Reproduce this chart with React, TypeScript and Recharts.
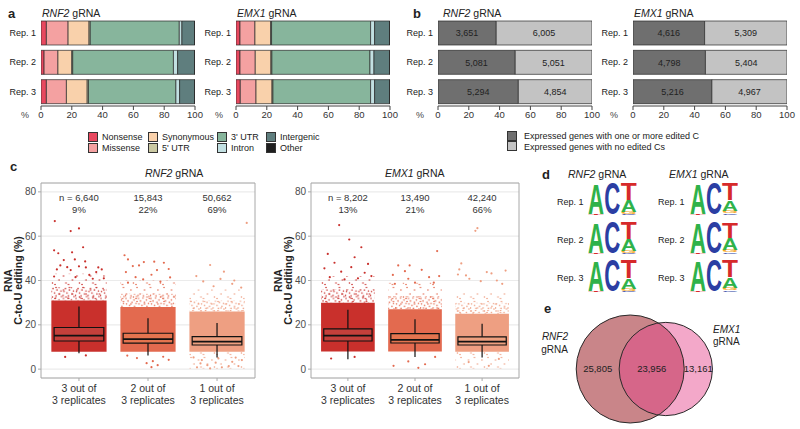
import React from "react";
import {
  BarChart, Bar, XAxis, YAxis, LabelList, ScatterChart, Scatter, ZAxis,
  CartesianGrid, ReferenceArea, ReferenceLine, ReferenceDot, Label,
} from "recharts";

const FONT = '"Liberation Sans", Arial, Helvetica, sans-serif';
const INK = "#222";

const reps = ["Rep. 1", "Rep. 2", "Rep. 3"];
const pctTicks = [0, 20, 40, 60, 80, 100];

// a: where the edited Cs fall (% of sites per replicate)
const siteClasses = ["Nonsense", "Missense", "Synonymous", "5' UTR", "3' UTR", "Intron", "Intergenic", "Other"];
const siteColors = ["#e8485f", "#f4a1a1", "#f9d1ab", "#cbc9a2", "#87b59c", "#c2e0e2", "#5f7e7e", "#1f1f1f"];
const rnf2Sites = [
  [3.5, 14.1, 13.6, 0.8, 57.8, 1.7, 8.2, 0.3],
  [2.0, 9.0, 9.0, 0.6, 65.4, 2.7, 11.0, 0.3],
  [3.5, 13.0, 13.5, 0.8, 56.8, 2.4, 9.7, 0.3],
];
const emx1Sites = [
  [2.6, 9.7, 10.2, 0.6, 64.3, 2.6, 9.7, 0.3],
  [2.6, 9.9, 10.2, 0.6, 63.7, 2.6, 10.1, 0.3],
  [2.8, 10.2, 10.4, 0.6, 63.4, 2.6, 9.7, 0.3],
];
// legend is laid out column by column, two per column
const legendColumns = [[0, 1], [2, 3], [4, 5], [6, 7]];

// b: expressed genes with / without edited Cs
const rnf2Edited = [3651, 5081, 5294];
const rnf2Unedited = [6005, 5051, 4854];
const emx1Edited = [4616, 4798, 5216];
const emx1Unedited = [5309, 5404, 4967];
const geneClasses = ["Expressed genes with one or more edited C", "Expressed genes with no edited Cs"];
const geneColors = ["#6f6f6f", "#c3c3c3"];

// c: editing level of sites found in 3, 2 or 1 replicates
const replicateGroups = [1, 2, 3];
const groupLabels = [["3 out of", "3 replicates"], ["2 out of", "3 replicates"], ["1 out of", "3 replicates"]];
const editTicks = [0, 20, 40, 60, 80];
const groupColors = ["#c9302c", "#e36a4f", "#ee9f82"];
const boxColors = ["#c4403b", "#e4744f", "#eea07f"];
const rnf2Counts = [6640, 15843, 50662];
const emx1Counts = [8202, 13490, 42240];
// whisker low, Q1, median, Q3, whisker high
const rnf2Boxes = [[7.2, 12.7, 15.1, 18.8, 28.3], [6.2, 11.7, 13.5, 16.2, 23.0], [5.3, 10.9, 12.4, 14.7, 20.8]];
const emx1Boxes = [[4.5, 12.7, 15.1, 18.2, 26.8], [5.5, 11.8, 13.2, 16.0, 22.5], [5.3, 10.9, 12.4, 14.6, 20.5]];
// point cloud: sparse bottom, dense bottom, dense top, speckled top, sparse top
const rnf2Clouds = [[7.8, 7.8, 31, 37, 43], [7.8, 7.8, 28, 34, 40], [0.3, 7.8, 26, 31, 36]];
const emx1Clouds = [[8.0, 8.0, 30, 36, 42], [8.0, 8.0, 27, 33, 39], [0.3, 7.8, 25, 30, 35]];
// scattered points outside the cloud: [jitter, editing %]
const rnf2Outliers = [
  [[-0.35, 66.8], [-0.12, 62.3], [0.0, 63.5], [0.06, 55], [-0.36, 53.6], [-0.3, 52.3], [-0.1, 52.7], [-0.22, 49.2],
   [-0.06, 49.5], [0.09, 48.6], [-0.27, 46.8], [-0.17, 46], [-0.32, 45], [-0.12, 44.7], [0.0, 46.4], [0.1, 45.9],
   [0.28, 45.9], [0.33, 45], [0.25, 43.8], [-0.36, 41.8], [0.15, 42.5], [-0.05, 41.5], [0.2, 40.8], [0.36, 41],
   [-0.2, 5.5], [0.1, 6.2]],
  [[-0.34, 51.4], [-0.29, 49.5], [-0.06, 48.3], [0.09, 48.5], [-0.22, 46.5], [-0.13, 46.8], [0.13, 44.7], [0.23, 48],
   [-0.32, 43.8], [0.32, 41.4], [-0.29, 39], [-0.07, 40.5], [0.05, 42.6], [0.3, 45.2], [0.18, 39.5], [-0.18, 41.5],
   [0.05, 0.9], [-0.16, 5], [-0.02, 2.7], [0.14, 1.8], [0.07, 3.6], [0.22, 5.6], [-0.3, 6.1], [0.3, 4.2]],
  [[0.43, 66], [-0.3, 42], [0.1, 44], [0.25, 40], [-0.1, 47], [-0.05, 37.4], [0.22, 38.5], [0.35, 36.8],
   [-0.2, 39.6], [0.05, 40.7], [-0.34, 5.3], [-0.22, 4.1], [-0.14, 1.8], [-0.02, 2.9], [0.07, 0.8], [0.22, 3.3],
   [0.31, 1.4], [-0.29, 0.8], [-0.1, 0.3], [0.27, 5.2], [0.36, 4.1], [0.02, 4.8], [-0.24, 2.6], [0.17, 1.4]],
];
const emx1Outliers = [
  [[-0.13, 65], [0.02, 58.5], [0.2, 55], [-0.3, 52], [0.1, 50.5], [-0.2, 48], [0.3, 47.5], [-0.35, 45.5],
   [0.05, 46], [0.25, 43.5], [-0.1, 44], [-0.27, 41.5], [0.15, 41], [0.35, 42], [-0.05, 40.5], [-0.25, 4.8], [0.1, 5.5]],
  [[-0.25, 46.8], [-0.08, 46.8], [-0.15, 44.2], [0.21, 41.5], [0.33, 53.3], [0.28, 39], [0.36, 42], [-0.1, 40.8],
   [0.0, 39], [-0.33, 42.5], [0.1, 44.8], [-0.3, 38.5], [-0.32, 1.5], [-0.1, 3.5], [0.15, 2.2], [0.3, 5.5], [0.05, 0.6]],
  [[-0.07, 63.6], [-0.1, 62.4], [-0.31, 47.7], [-0.34, 45], [0.07, 43.8], [-0.24, 42.3], [-0.19, 40.8], [-0.02, 39.7],
   [0.14, 43.2], [-0.36, 42.7], [0.3, 38.5], [0.22, 40], [0.35, 44.5], [-0.2, 3.2], [0.1, 1.5], [0.25, 4.6]],
];

// d: sequence context, letters bottom to top with their frequency
const logoColors: Record<string, string> = { A: "#2fb24a", C: "#2b3ea3", G: "#f4a81f", T: "#d62a2a" };
const glyphAdvance: Record<string, number> = { A: 72.2, C: 72.2, G: 77.8, T: 61.1 };
const rnf2Logos = [
  [[["G", 0.005], ["C", 0.005], ["T", 0.03], ["A", 0.96]], [["A", 0.005], ["G", 0.005], ["T", 0.01], ["C", 0.98]], [["C", 0.04], ["G", 0.06], ["A", 0.36], ["T", 0.54]]],
  [[["G", 0.005], ["C", 0.005], ["T", 0.03], ["A", 0.96]], [["A", 0.005], ["G", 0.005], ["T", 0.01], ["C", 0.98]], [["C", 0.04], ["G", 0.06], ["A", 0.38], ["T", 0.52]]],
  [[["G", 0.005], ["C", 0.005], ["T", 0.03], ["A", 0.96]], [["A", 0.005], ["G", 0.005], ["T", 0.01], ["C", 0.98]], [["C", 0.04], ["G", 0.06], ["A", 0.34], ["T", 0.56]]],
];
const emx1Logos = [
  [[["G", 0.005], ["C", 0.005], ["T", 0.03], ["A", 0.96]], [["A", 0.005], ["G", 0.005], ["T", 0.01], ["C", 0.98]], [["C", 0.05], ["G", 0.09], ["A", 0.32], ["T", 0.54]]],
  [[["G", 0.005], ["C", 0.005], ["T", 0.03], ["A", 0.96]], [["A", 0.005], ["G", 0.005], ["T", 0.01], ["C", 0.98]], [["C", 0.05], ["G", 0.08], ["A", 0.37], ["T", 0.50]]],
  [[["G", 0.005], ["C", 0.005], ["T", 0.03], ["A", 0.96]], [["A", 0.005], ["G", 0.005], ["T", 0.01], ["C", 0.98]], [["C", 0.05], ["G", 0.08], ["A", 0.33], ["T", 0.54]]],
];

// e: RNF2 only, shared, EMX1 only
const vennCounts = [25805, 23956, 13161];

const fmt = (v: number) => v.toLocaleString("en-US");

// jitter texture for the busy parts of the point clouds
const denseDots = [[1, 1], [5.5, 0.5], [9, 2.5], [3, 3.5], [7, 5], [11, 6], [1.5, 6.5], [4.5, 8], [9.5, 9], [0.5, 10.5], [6, 11], [11.5, 11.5]];
const sparseDots = [[2, 1.5], [9.5, 4], [5, 8], [12, 11], [1, 12.5]];

function T({ x, y, children, size = 10, bold = false, align = "left", color = INK }: any) {
  const tx = align === "right" ? "-100%" : align === "center" ? "-50%" : "0";
  return (
    <div style={{ position: "absolute", left: x, top: y, transform: `translate(${tx},-50%)`, fontSize: size,
      fontWeight: bold ? 700 : 400, color, whiteSpace: "nowrap", lineHeight: 1 }}>
      {children}
    </div>
  );
}

const RepTick = ({ x, y, payload }: any) => (
  <text x={x} y={y} dy={3.2} textAnchor="end" fontSize={9} fill={INK}>{payload.value}</text>
);

function SiteBars({ rows, left }: any) {
  const data = reps.map((rep, i) => {
    const d: any = { rep };
    siteClasses.forEach((_, j) => (d[`s${j}`] = rows[i][j]));
    return d;
  });
  return (
    <div style={{ position: "absolute", left, top: 0 }}>
      <BarChart width={215} height={126} data={data} layout="vertical" barSize={24}
        margin={{ top: 18, right: 20, bottom: 0, left: 0 }}>
        <XAxis type="number" domain={[0, 100]} ticks={pctTicks} interval={0} allowDataOverflow height={20}
          tickSize={4} tickMargin={1} stroke="#444" tick={{ fontSize: 9.5, fill: "#333" }} />
        <YAxis type="category" dataKey="rep" width={41} axisLine={false} tickLine={false}
          tickSize={0} tickMargin={5} tick={<RepTick />} />
        {siteClasses.map((c, j) => (
          <Bar key={c} dataKey={`s${j}`} stackId="s" fill={siteColors[j]} stroke="#2a2a2a" strokeWidth={0.7}
            isAnimationActive={false} />
        ))}
      </BarChart>
    </div>
  );
}

function GeneBars({ edited, unedited, left }: any) {
  const data = reps.map((rep, i) => ({ rep, edited: edited[i], unedited: unedited[i] }));
  return (
    <div style={{ position: "absolute", left, top: 0 }}>
      <BarChart width={215} height={126} data={data} layout="vertical" barSize={24} stackOffset="expand"
        margin={{ top: 18, right: 20, bottom: 0, left: 0 }}>
        <XAxis type="number" domain={[0, 1]} ticks={pctTicks.map((t) => t / 100)} interval={0} allowDataOverflow
          height={20} tickSize={4} tickMargin={1} stroke="#444" tick={{ fontSize: 9.5, fill: "#333" }}
          tickFormatter={(v: number) => String(Math.round(v * 100))} />
        <YAxis type="category" dataKey="rep" width={41} axisLine={false} tickLine={false}
          tickSize={0} tickMargin={5} tick={<RepTick />} />
        {["edited", "unedited"].map((k, j) => (
          <Bar key={k} dataKey={k} stackId="g" fill={geneColors[j]} stroke="#2a2a2a" strokeWidth={0.7}
            isAnimationActive={false}>
            <LabelList dataKey={k} position="center" fontSize={9} fill={INK}
              formatter={(v: any) => fmt(Number(v))} />
          </Bar>
        ))}
      </BarChart>
    </div>
  );
}

function EditingPanel({ id, left, plotWidth, counts, boxes, clouds, outliers }: any) {
  const total = counts.reduce((s: number, v: number) => s + v, 0);
  const width = 41 + plotWidth + 10;
  const bw = 0.36;
  const cw = 0.4;
  const CatTick = ({ x, y, payload }: any) => {
    const lines = groupLabels[payload.value - 1];
    return (
      <text x={x} y={y} textAnchor="middle" fontSize={10.5} fill="#333">
        <tspan x={x} dy={9}>{lines[0]}</tspan>
        <tspan x={x} dy={12}>{lines[1]}</tspan>
      </text>
    );
  };
  const yLabel = () => (
    <g fontWeight={700} fontSize={10.5} fill={INK} textAnchor="middle">
      <text transform="translate(12,120.5) rotate(-90)">RNA</text>
      <text transform="translate(22,120.5) rotate(-90)">C-to-U editing (%)</text>
    </g>
  );
  return (
    <div style={{ position: "absolute", left, top: 160 }}>
      <ScatterChart width={width} height={250} margin={{ top: 23, right: 10, bottom: 0, left: 0 }}>
        <defs>
          {groupColors.map((col, i) => (
            <React.Fragment key={i}>
              <pattern id={`${id}d${i}`} width={12.5} height={12.5} patternUnits="userSpaceOnUse">
                {denseDots.map(([cx, cy], k) => <circle key={k} cx={cx} cy={cy} r={0.8} fill={col} />)}
              </pattern>
              <pattern id={`${id}s${i}`} width={13.5} height={14} patternUnits="userSpaceOnUse">
                {sparseDots.map(([cx, cy], k) => <circle key={k} cx={cx} cy={cy} r={0.8} fill={col} />)}
              </pattern>
            </React.Fragment>
          ))}
        </defs>
        <CartesianGrid vertical={false} stroke="#ebebeb" strokeWidth={1.2} />
        <XAxis type="number" dataKey="x" domain={[0.45, 3.55]} ticks={replicateGroups} interval={0}
          allowDataOverflow height={32} axisLine={false} tickLine={{ stroke: "#aaa" }} tickSize={3}
          tickMargin={2} tick={<CatTick />} />
        <YAxis type="number" dataKey="y" domain={[-4, 84]} ticks={editTicks} interval={0} allowDataOverflow
          width={41} axisLine={false} tickLine={{ stroke: "#aaa" }} tickSize={3} tickMargin={2}
          tick={{ fontSize: 10, fill: "#4d4d4d" }}>
          <Label content={yLabel} />
        </YAxis>
        {replicateGroups.map((g, i) => {
          const [sb, lo, hi, dense, sparse] = clouds[i];
          return (
            <React.Fragment key={`c${g}`}>
              {sb < lo && (
                <ReferenceArea x1={g - cw} x2={g + cw} y1={sb} y2={lo} fill={`url(#${id}s${i})`} fillOpacity={1} />
              )}
              <ReferenceArea x1={g - cw} x2={g + cw} y1={hi} y2={sparse} fill={`url(#${id}s${i})`} fillOpacity={1} />
              <ReferenceArea x1={g - cw} x2={g + cw} y1={hi} y2={dense} fill={`url(#${id}d${i})`} fillOpacity={1} />
              <ReferenceArea x1={g - cw} x2={g + cw} y1={lo} y2={hi} fill={groupColors[i]} fillOpacity={1} />
            </React.Fragment>
          );
        })}
        {replicateGroups.map((g, i) => (
          <Scatter key={`o${g}`} data={outliers[i].map(([dx, y]: number[]) => ({ x: g + dx, y }))}
            isAnimationActive={false}
            shape={(p: any) => <circle cx={p.cx} cy={p.cy} r={1.1} fill={groupColors[i]} />} />
        ))}
        {replicateGroups.map((g, i) => {
          const [wl, q1, med, q3, wh] = boxes[i];
          return (
            <React.Fragment key={`b${g}`}>
              <ReferenceLine segment={[{ x: g, y: q3 }, { x: g, y: wh }]} stroke="#111" strokeWidth={1.2} />
              <ReferenceLine segment={[{ x: g, y: wl }, { x: g, y: q1 }]} stroke="#111" strokeWidth={1.2} />
              <ReferenceArea x1={g - bw} x2={g + bw} y1={q1} y2={q3} fill={boxColors[i]} fillOpacity={1}
                stroke="#111" strokeWidth={1.2} />
              <ReferenceLine segment={[{ x: g - bw, y: med }, { x: g + bw, y: med }]} stroke="#111" strokeWidth={1.8} />
              <ReferenceDot x={g} y={77.3} r={0} fill="none" stroke="none"
                label={{ value: i === 0 ? `n = ${fmt(counts[i])}` : fmt(counts[i]), position: "center", fontSize: 9.5, fill: "#333" }} />
              <ReferenceDot x={g} y={71.8} r={0} fill="none" stroke="none"
                label={{ value: `${Math.round((counts[i] / total) * 100)}%`, position: "center", fontSize: 9.5, fill: "#333" }} />
            </React.Fragment>
          );
        })}
        <ReferenceArea x1={0.45} x2={3.55} y1={-4} y2={84} fill="none" fillOpacity={0} stroke="#a8a8a8" strokeWidth={1} />
      </ScatterChart>
    </div>
  );
}

function Glyph({ x, y, width, height, letter }: any) {
  if (!letter || !height || height < 0.4) return null;
  const sx = width / glyphAdvance[letter];
  const sy = height / 71.6;
  return (
    <text transform={`translate(${x},${y + height}) scale(${sx},${sy})`} fontSize={100} fontWeight={700}
      fill={logoColors[letter]}>
      {letter}
    </text>
  );
}

function Logo({ columns, left, top, width }: any) {
  const data = columns.map((col: any[], i: number) => {
    const d: any = { pos: i };
    col.forEach(([l, h]: any, k: number) => {
      d[`h${k}`] = h;
      d[`l${k}`] = l;
    });
    return d;
  });
  return (
    <div style={{ position: "absolute", left, top }}>
      <BarChart width={width} height={32} data={data} barCategoryGap={0} margin={{ top: 0, right: 0, bottom: 0, left: 0 }}>
        <XAxis dataKey="pos" hide />
        <YAxis hide domain={[0, 1]} allowDataOverflow />
        {[0, 1, 2, 3].map((k) => (
          <Bar key={k} dataKey={`h${k}`} stackId="l" isAnimationActive={false}
            shape={(p: any) => <Glyph {...p} letter={p.payload[`l${k}`]} />} />
        ))}
      </BarChart>
    </div>
  );
}

function lensArea(r1: number, r2: number, d: number) {
  const a1 = Math.acos((d * d + r1 * r1 - r2 * r2) / (2 * d * r1));
  const a2 = Math.acos((d * d + r2 * r2 - r1 * r1) / (2 * d * r2));
  const k = Math.sqrt((-d + r1 + r2) * (d + r1 - r2) * (d - r1 + r2) * (d + r1 + r2));
  return r1 * r1 * a1 + r2 * r2 * a2 - 0.5 * k;
}

function Venn() {
  const [onlyR, shared, onlyE] = vennCounts;
  const tR = onlyR + shared;
  const tE = onlyE + shared;
  const maxArea = 9161; // px² of the larger circle
  const k = maxArea / tR;
  const r1 = Math.sqrt((k * tR) / Math.PI);
  const r2 = Math.sqrt((k * tE) / Math.PI);
  let lo = Math.abs(r1 - r2) + 1e-6;
  let hi = r1 + r2 - 1e-6;
  for (let i = 0; i < 60; i++) {
    const mid = (lo + hi) / 2;
    if (lensArea(r1, r2, mid) > k * shared) lo = mid;
    else hi = mid;
  }
  const d = (lo + hi) / 2;
  const cR = -d / 2;
  const cE = d / 2;
  const labelX = [(cR - r1 + cE - r2) / 2, (cE - r2 + cR + r1) / 2, (cR + r1 + cE + r2) / 2];
  const circles = [{ x: cR, y: 0, z: tR }, { x: cE, y: 0, z: tE }];
  return (
    <div style={{ position: "absolute", left: 540, top: 290 }}>
      <ScatterChart width={260} height={139} margin={{ top: 0, right: 0, bottom: 0, left: 0 }}>
        <XAxis type="number" dataKey="x" domain={[-108, 152]} allowDataOverflow hide />
        <YAxis type="number" dataKey="y" domain={[-60, 79]} allowDataOverflow hide />
        <ZAxis type="number" dataKey="z" domain={[0, tR]} range={[0, maxArea]} />
        <Scatter data={[circles[0]]} fill="#c98589" isAnimationActive={false} />
        <Scatter data={[circles[1]]} fill="#e5418a" fillOpacity={0.46} isAnimationActive={false} />
        <Scatter data={circles} fill="none" stroke="#2a2a2a" strokeWidth={1} isAnimationActive={false} />
        {vennCounts.map((c, i) => (
          <ReferenceDot key={i} x={labelX[i]} y={0} r={0} fill="none" stroke="none"
            label={{ value: fmt(c), position: "center", fontSize: 9.5, fill: INK }} />
        ))}
      </ScatterChart>
    </div>
  );
}

function Gene({ name }: any) {
  return (
    <>
      <i>{name}</i> gRNA
    </>
  );
}

export default function App() {
  const legendX = [88, 148, 217, 266];
  return (
    <div style={{ position: "absolute", left: 0, top: 0, width: 800, height: 429, background: "#fff",
      overflow: "hidden", fontFamily: FONT, color: INK }}>
      {/* a */}
      <T x={8} y={13} size={13} bold>a</T>
      <T x={42} y={13} size={10.5}><Gene name="RNF2" /></T>
      <T x={237} y={13} size={10.5}><Gene name="EMX1" /></T>
      <SiteBars rows={rnf2Sites} left={0} />
      <SiteBars rows={emx1Sites} left={195} />
      <T x={21} y={115} size={9} color="#444">%</T>
      <T x={215} y={115} size={9} color="#444">%</T>
      {legendColumns.map((col, ci) =>
        col.map((j, ri) => (
          <React.Fragment key={j}>
            <div style={{ position: "absolute", left: legendX[ci], top: 132 + ri * 10.5, width: 10, height: 10,
              background: siteColors[j], boxSizing: "border-box", border: "1px solid #333" }} />
            <T x={legendX[ci] + 14} y={137 + ri * 10.5} size={9}>{siteClasses[j]}</T>
          </React.Fragment>
        ))
      )}

      {/* b */}
      <T x={413} y={13} size={13} bold>b</T>
      <T x={443} y={13} size={10.5}><Gene name="RNF2" /></T>
      <T x={634} y={13} size={10.5}><Gene name="EMX1" /></T>
      <GeneBars edited={rnf2Edited} unedited={rnf2Unedited} left={397} />
      <GeneBars edited={emx1Edited} unedited={emx1Unedited} left={592} />
      <T x={416} y={115} size={9} color="#444">%</T>
      <T x={610} y={115} size={9} color="#444">%</T>
      {geneClasses.map((g, j) => (
        <React.Fragment key={g}>
          <div style={{ position: "absolute", left: 507, top: 131 + j * 10, width: 10, height: 10,
            background: geneColors[j], boxSizing: "border-box", border: "1px solid #333" }} />
          <T x={524} y={136 + j * 10.5} size={9}>{g}</T>
        </React.Fragment>
      ))}

      {/* c */}
      <T x={10} y={166} size={13} bold>c</T>
      <T x={145} y={173} size={10.5}><Gene name="RNF2" /></T>
      <T x={385} y={173} size={10.5}><Gene name="EMX1" /></T>
      <EditingPanel id="r" left={0} plotWidth={214} counts={rnf2Counts} boxes={rnf2Boxes}
        clouds={rnf2Clouds} outliers={rnf2Outliers} />
      <EditingPanel id="e" left={270} plotWidth={208} counts={emx1Counts} boxes={emx1Boxes}
        clouds={emx1Clouds} outliers={emx1Outliers} />

      {/* d */}
      <T x={542} y={174} size={13} bold>d</T>
      <T x={568} y={174} size={10.5}><Gene name="RNF2" /></T>
      <T x={669} y={174} size={10.5}><Gene name="EMX1" /></T>
      {reps.map((r, i) => (
        <React.Fragment key={r}>
          <T x={557} y={202 + i * 38} size={9}>{r}</T>
          <T x={658} y={202 + i * 38} size={9}>{r}</T>
          <Logo columns={rnf2Logos[i]} left={588} top={183 + i * 38.5} width={49} />
          <Logo columns={emx1Logos[i]} left={690} top={183 + i * 38.5} width={48} />
        </React.Fragment>
      ))}

      {/* e */}
      <T x={544} y={308} size={13} bold>e</T>
      <Venn />
      <T x={568} y={337} size={10} align="right"><i>RNF2</i></T>
      <T x={568} y={350} size={10} align="right">gRNA</T>
      <T x={713} y={330} size={10}><i>EMX1</i></T>
      <T x={713} y={342} size={10}>gRNA</T>
    </div>
  );
}
